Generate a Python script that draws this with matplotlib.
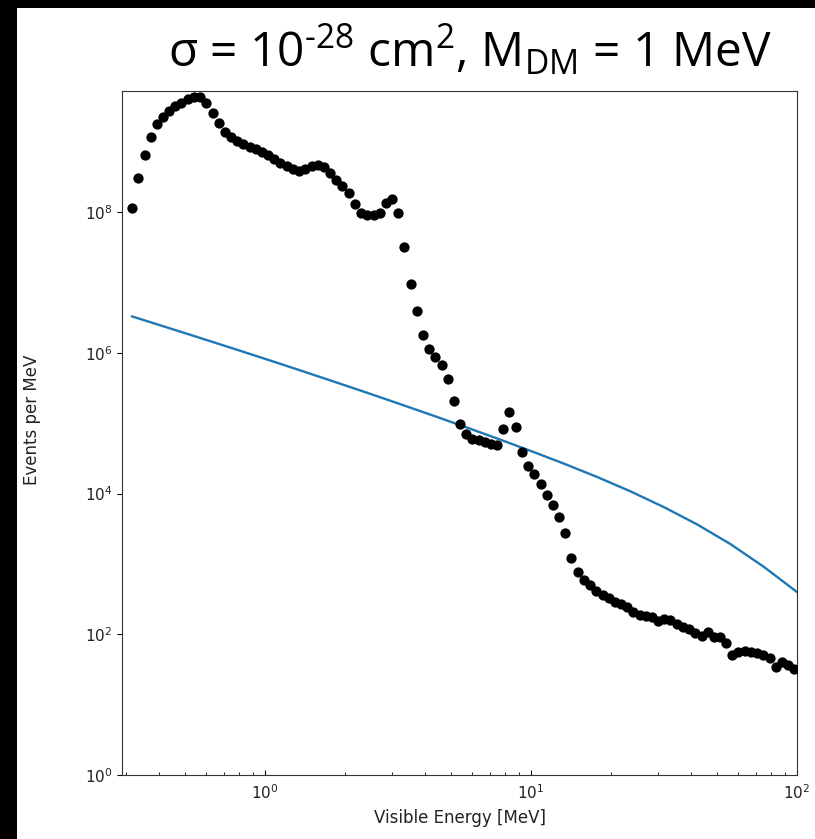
import matplotlib
matplotlib.use("Agg")
import matplotlib.pyplot as plt
import numpy as np
from matplotlib.patches import Rectangle
from matplotlib.ticker import NullFormatter

# ---- data ----
log_energy = [
    -0.500, -0.477, -0.453, -0.430, -0.407, -0.384, -0.360, -0.337, -0.314, -0.291,
    -0.267, -0.244, -0.221, -0.197, -0.174, -0.151, -0.128, -0.104, -0.081, -0.058,
    -0.035, -0.011, 0.012, 0.035, 0.058, 0.082, 0.105, 0.128, 0.152, 0.175,
    0.198, 0.221, 0.245, 0.268, 0.291, 0.314, 0.338, 0.361, 0.384, 0.408,
    0.431, 0.454, 0.477, 0.501, 0.524, 0.547, 0.570, 0.594, 0.617, 0.640,
    0.664, 0.687, 0.710, 0.733, 0.757, 0.780, 0.803, 0.826, 0.850, 0.873,
    0.896, 0.919, 0.943, 0.966, 0.989, 1.013, 1.036, 1.059, 1.082, 1.106,
    1.129, 1.152, 1.175, 1.199, 1.222, 1.245, 1.269, 1.292, 1.315, 1.338,
    1.362, 1.385, 1.408, 1.431, 1.455, 1.478, 1.501, 1.524, 1.548, 1.571,
    1.594, 1.618, 1.641, 1.664, 1.687, 1.711, 1.734, 1.757, 1.780, 1.804,
    1.827, 1.850, 1.873, 1.897, 1.920, 1.943, 1.967, 1.990,
]
log_background = [
    8.057, 8.483, 8.810, 9.066, 9.250, 9.350, 9.435, 9.506, 9.549, 9.606,
    9.634, 9.634, 9.549, 9.407, 9.265, 9.137, 9.066, 9.009, 8.966, 8.924,
    8.895, 8.853, 8.810, 8.753, 8.696, 8.654, 8.611, 8.583, 8.611, 8.654,
    8.668, 8.639, 8.554, 8.455, 8.369, 8.270, 8.114, 7.986, 7.957, 7.957,
    7.986, 8.128, 8.185, 7.986, 7.503, 6.977, 6.593, 6.252, 6.053, 5.940,
    5.826, 5.627, 5.314, 4.988, 4.845, 4.774, 4.760, 4.732, 4.703, 4.689,
    4.917, 5.158, 4.945, 4.590, 4.391, 4.277, 4.135, 3.979, 3.837, 3.666,
    3.439, 3.083, 2.885, 2.771, 2.700, 2.615, 2.558, 2.515, 2.458, 2.430,
    2.387, 2.316, 2.274, 2.259, 2.245, 2.188, 2.217, 2.202, 2.146, 2.103,
    2.075, 2.018, 1.975, 2.032, 1.961, 1.961, 1.876, 1.705, 1.748, 1.762,
    1.748, 1.734, 1.705, 1.663, 1.535, 1.606, 1.563, 1.506,
]
log_signal_energy = [
    -0.500, -0.375, -0.250, -0.125, 0.000, 0.125, 0.250, 0.375, 0.500, 0.625, 0.750,
    0.875, 1.000, 1.125, 1.250, 1.375, 1.500, 1.625, 1.750, 1.875, 2.000,
]
log_signal = [
    6.517, 6.368, 6.218, 6.067, 5.914, 5.759, 5.602, 5.443, 5.281, 5.117, 4.950,
    4.779, 4.604, 4.423, 4.233, 4.029, 3.806, 3.560, 3.281, 2.959, 2.600,
]

title = "σ = 10$^{\\text{-28}}$ cm$^{\\text{2}}$, M$_{\\text{DM}}$ = 1 MeV"
xlabel = "Visible Energy [MeV]"
ylabel = "Events per MeV"

# custom mathtext fonts are used only by the title (math_fontfamily="custom")
plt.rcParams["mathtext.rm"] = "Open Sans"
plt.rcParams["mathtext.it"] = "Open Sans"
plt.rcParams["mathtext.bf"] = "Open Sans"

# ---- figure ----
W, H = 815, 839
fig = plt.figure(figsize=(W / 100, H / 100), dpi=100)
fig.patch.set_facecolor("white")

# black frame strips (screenshot border)
fig.patches.append(Rectangle((0, 0), 17 / W, 1, transform=fig.transFigure,
                             facecolor="black", edgecolor="none", zorder=0))
fig.patches.append(Rectangle((0, 1 - 8 / H), 1, 8 / H, transform=fig.transFigure,
                             facecolor="black", edgecolor="none", zorder=0))

left, right, top, bottom = 122, 797, 91, 775
ax = fig.add_axes([left / W, 1 - bottom / H, (right - left) / W, (bottom - top) / H])

E = 10 ** np.array(log_energy)
B = 10 ** np.array(log_background)
Es = 10 ** np.array(log_signal_energy)
S = 10 ** np.array(log_signal)

ax.plot(E, B, "o", color="black", markersize=7.4, markeredgewidth=0, zorder=3)
ax.plot(Es, S, "-", color="#1f77b4", linewidth=1.7, zorder=2)

ax.set_xscale("log")
ax.set_yscale("log")
ax.set_xlim(0.290, 100)
ax.set_ylim(1, 10 ** 9.72)
ax.xaxis.set_minor_formatter(NullFormatter())
ax.yaxis.set_minor_formatter(NullFormatter())

ax.set_xlabel(xlabel, fontsize=12, labelpad=5, color="#222222")
ax.set_ylabel(ylabel, fontsize=12, color="#222222")
ax.yaxis.set_label_coords(-0.12, 0.52)
ax.tick_params(axis="x", which="both", direction="in", labelsize=11, pad=6,
               labelcolor="#222222")
ax.tick_params(axis="y", which="both", direction="out", labelsize=11,
               labelcolor="#222222")
for s in ax.spines.values():
    s.set_color("#333333")

fig.text(470 / W, 1 - 67 / H, title, fontsize=34.5, family="Open Sans",
         math_fontfamily="custom", ha="center", va="baseline", color="black")

fig.savefig("out.png", dpi=100, facecolor="white")
